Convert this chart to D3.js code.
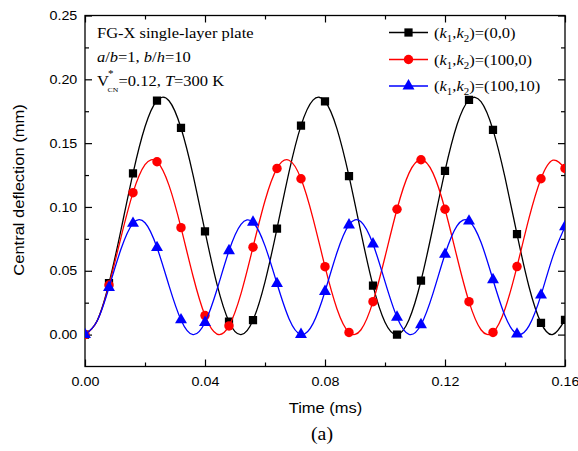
<!DOCTYPE html>
<html lang="en">
<head>
  <meta charset="UTF-8">
  <title>Central deflection vs time</title>
  <style>
body {
  margin: 0;
  background: #fff;
}
svg text {
  fill: #000;
}
.sans {
  font-family: 'Liberation Sans', Arial, sans-serif;
}
.serif {
  font-family: 'Liberation Serif', 'Times New Roman', serif;
}
.axis path, .axis line {
  stroke: #000;
  stroke-width: 1.2;
}
  </style>
</head>
<body>
<div id="chart"></div>

<script src="https://cdn.jsdelivr.net/npm/d3@7"></script>
<script>
/* global d3 */

// time (ms), central deflection (mm)
var time = [0, 0.004, 0.008, 0.012, 0.016, 0.02, 0.024, 0.028, 0.032, 0.036,
  0.04, 0.044, 0.048, 0.052, 0.056, 0.06, 0.064, 0.068, 0.072, 0.076,
  0.08, 0.084, 0.088, 0.092, 0.096, 0.1, 0.104, 0.108, 0.112, 0.116,
  0.12, 0.124, 0.128, 0.132, 0.136, 0.14, 0.144, 0.148, 0.152, 0.156, 0.16];

var defl_0_0 = [0, 0.0107, 0.0403, 0.0821, 0.1263, 0.1628, 0.1834, 0.1832, 0.1619, 0.1252,
  0.0809, 0.0393, 0.0101, 0.0000, 0.0113, 0.0413, 0.0831, 0.1273, 0.1637, 0.1837,
  0.1828, 0.1612, 0.1241, 0.0798, 0.0384, 0.0097, 0.0000, 0.0117, 0.0422, 0.0843,
  0.1283, 0.1644, 0.1839, 0.1825, 0.1604, 0.1231, 0.0787, 0.0375, 0.0092, 0.0001, 0.0115];

var defl_100_0 = [0, 0.0105, 0.0388, 0.0762, 0.1112, 0.1332, 0.1354, 0.1169, 0.0838, 0.0459,
  0.0149, 0.0004, 0.0068, 0.0321, 0.0685, 0.1049, 0.1302, 0.1366, 0.1221, 0.0911,
  0.0532, 0.0201, 0.0017, 0.0038, 0.0258, 0.0608, 0.0982, 0.1265, 0.1370, 0.1265,
  0.0982, 0.0608, 0.0258, 0.0038, 0.0017, 0.0201, 0.0533, 0.0912, 0.1221, 0.1366, 0.1302];

var defl_100_10 = [0, 0.0104, 0.0369, 0.0670, 0.0871, 0.0876, 0.0682, 0.0384, 0.0115, 0.0000,
  0.0095, 0.0353, 0.0657, 0.0864, 0.0880, 0.0695, 0.0400, 0.0125, 0.0001, 0.0086,
  0.0338, 0.0643, 0.0859, 0.0885, 0.0710, 0.0415, 0.0136, 0.0002, 0.0077, 0.0323,
  0.0629, 0.0852, 0.0889, 0.0723, 0.0430, 0.0147, 0.0004, 0.0068, 0.0309, 0.0615, 0.0845];

var seriesNames = ["0,0", "100,0", "100,10"];
var seriesColors = ["#000000", "#ff0000", "#0000ff"];

var xTicks = [0, 0.04, 0.08, 0.12, 0.16];
var xMinor = [0.02, 0.06, 0.10, 0.14];
var yTicks = [0, 0.05, 0.10, 0.15, 0.20, 0.25];
var yMinor = [0.025, 0.075, 0.125, 0.175, 0.225];

var width = 578, height = 451;
var pLeft = 85, pRight = 565, pTop = 15.5, pBottom = 366.5;
var sx = 1.1; // glyphs in the figure are a bit wider than tall

var svg = d3.select("#chart").append("svg")
  .attr("width", width)
  .attr("height", height);

var x = d3.scaleLinear().domain([0, 0.16]).range([pLeft, pRight]);
var y = d3.scaleLinear().domain([-0.025, 0.25]).range([pBottom, pTop]);

var fmt = d3.format(".2f");

// clip for the curves
svg.append("clipPath").attr("id", "clip")
  .append("rect")
  .attr("x", pLeft).attr("y", pTop)
  .attr("width", pRight - pLeft).attr("height", pBottom - pTop);

// axes, all ticks pointing inward
function axisGroup(axis, tx, ty) {
  var g = svg.append("g")
    .attr("class", "axis sans")
    .attr("transform", "translate(" + tx + "," + ty + ")")
    .call(axis);
  g.select(".domain").remove();
  return g;
}

var gx = axisGroup(d3.axisBottom(x).tickValues(xTicks).tickSize(-7).tickSizeOuter(0)
  .tickPadding(10).tickFormat(fmt), 0, pBottom);
axisGroup(d3.axisBottom(x).tickValues(xMinor).tickSize(-4).tickFormat(""), 0, pBottom);
axisGroup(d3.axisTop(x).tickValues(xTicks).tickSize(-7).tickFormat(""), 0, pTop);
axisGroup(d3.axisTop(x).tickValues(xMinor).tickSize(-4).tickFormat(""), 0, pTop);

var gy = axisGroup(d3.axisLeft(y).tickValues(yTicks).tickSize(-7).tickSizeOuter(0)
  .tickPadding(7).tickFormat(fmt), pLeft, 0);
axisGroup(d3.axisLeft(y).tickValues(yMinor).tickSize(-4).tickFormat(""), pLeft, 0);
axisGroup(d3.axisRight(y).tickValues(yTicks).tickSize(-7).tickFormat(""), pRight, 0);
axisGroup(d3.axisRight(y).tickValues(yMinor).tickSize(-4).tickFormat(""), pRight, 0);

gx.selectAll("text").attr("font-size", 13).attr("font-family", null)
  .attr("transform", "scale(" + sx + ",1)");
gy.selectAll("text").attr("font-size", 13).attr("font-family", null)
  .attr("transform", "scale(" + sx + ",1)");

svg.append("rect")
  .attr("x", pLeft).attr("y", pTop)
  .attr("width", pRight - pLeft).attr("height", pBottom - pTop)
  .attr("fill", "none")
  .attr("stroke", "#000")
  .attr("stroke-width", 1.3);

// series
var symbols = [d3.symbolSquare, d3.symbolCircle, d3.symbolTriangle];
var symbolSizes = [68, 70, 62];
var allSeries = [defl_0_0, defl_100_0, defl_100_10];

var line = d3.line()
  .x(function (d) { return x(d.t); })
  .y(function (d) { return y(d.v); })
  .curve(d3.curveNatural);

var plot = svg.append("g").attr("clip-path", "url(#clip)");

allSeries.forEach(function (vals, i) {
  var pts = time.map(function (t, j) { return { t: t, v: vals[j] }; });
  plot.append("path")
    .datum(pts)
    .attr("d", line)
    .attr("fill", "none")
    .attr("stroke", seriesColors[i])
    .attr("stroke-width", 1.3);

  plot.selectAll(".m" + i)
    .data(pts.filter(function (d, j) { return j % 2 === 0; }))
    .enter().append("path")
    .attr("class", "m" + i)
    .attr("transform", function (d) { return "translate(" + x(d.t) + "," + y(d.v) + ")"; })
    .attr("d", d3.symbol().type(symbols[i]).size(symbolSizes[i]))
    .attr("fill", seriesColors[i]);
});

// rich text with italic / subscript parts
function richText(px, py, parts, size) {
  var t = svg.append("text")
    .attr("class", "serif")
    .attr("font-size", size)
    .attr("transform", "translate(" + px + "," + py + ") scale(" + sx + ",1)");
  var shift = 0;
  parts.forEach(function (p) {
    var target = p.sub ? 4 : 0;
    var s = t.append("tspan").text(p.t);
    if (target !== shift) { s.attr("dy", target - shift); shift = target; }
    if (p.i) s.attr("font-style", "italic");
    if (p.sub) s.attr("font-size", size * 0.66);
  });
  return t;
}

// legend
var legY = [32.5, 59.5, 86];
seriesNames.forEach(function (name, i) {
  svg.append("line")
    .attr("x1", 389).attr("x2", 428)
    .attr("y1", legY[i]).attr("y2", legY[i])
    .attr("stroke", seriesColors[i])
    .attr("stroke-width", 1.3);
  svg.append("path")
    .attr("transform", "translate(408.5," + legY[i] + ")")
    .attr("d", d3.symbol().type(symbols[i]).size(symbolSizes[i]))
    .attr("fill", seriesColors[i]);
  richText(434, legY[i] + 5, [
    { t: "(" }, { t: "k", i: true }, { t: "1", sub: true }, { t: "," },
    { t: "k", i: true }, { t: "2", sub: true }, { t: ")=(" + name + ")" }
  ], 15);
});

// annotation
richText(97, 38, [{ t: "FG-X single-layer plate" }], 15);
richText(97, 61.5, [
  { t: "a", i: true }, { t: "/" }, { t: "b", i: true }, { t: "=1, " },
  { t: "b", i: true }, { t: "/" }, { t: "h", i: true }, { t: "=10" }
], 15);
richText(97, 85.5, [{ t: "V" }], 15);
richText(108, 77, [{ t: "*" }], 10);
richText(107.5, 92, [{ t: "CN" }], 7);
richText(118.5, 85.5, [{ t: "=0.12, " }, { t: "T", i: true }, { t: "=300 K" }], 15);

// axis titles
svg.append("text")
  .attr("class", "sans")
  .attr("font-size", 15)
  .attr("text-anchor", "middle")
  .attr("transform", "translate(325.5,413) scale(" + sx + ",1)")
  .text("Time (ms)");

svg.append("text")
  .attr("class", "sans")
  .attr("font-size", 15)
  .attr("text-anchor", "middle")
  .attr("transform", "translate(24,190) rotate(-90) scale(" + sx + ",1)")
  .text("Central deflection (mm)");

svg.append("text")
  .attr("class", "serif")
  .attr("font-size", 18)
  .attr("text-anchor", "middle")
  .attr("transform", "translate(322,440) scale(" + sx + ",1)")
  .text("(a)");
</script>
</body>
</html>
